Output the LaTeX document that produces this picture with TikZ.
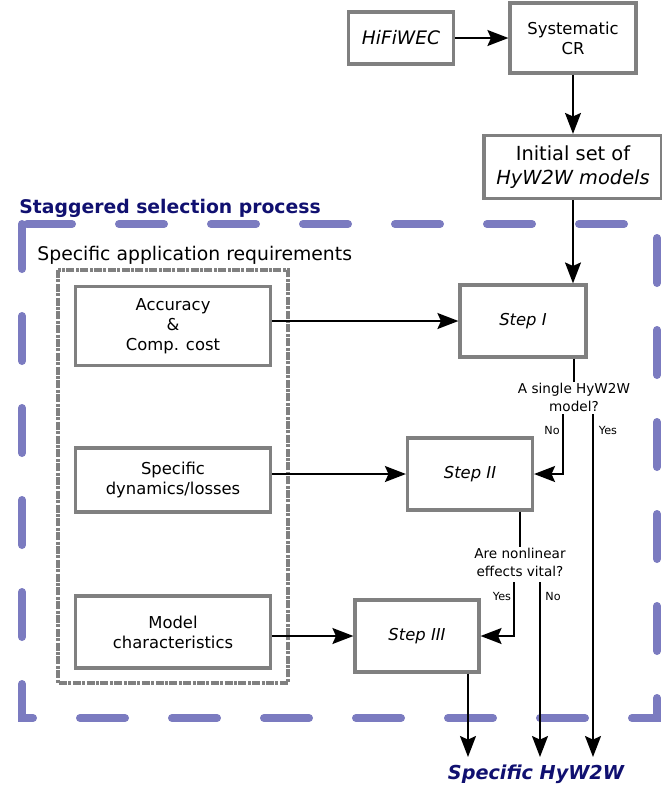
\documentclass[tikz,border=0pt]{standalone}
\usepackage{fontspec}
\setmainfont{DejaVu Sans}
\usepackage{xcolor}
\usepackage{tikz}
\usetikzlibrary{arrows.meta}
\definecolor{framecol}{RGB}{123,123,192}
\definecolor{navy}{RGB}{16,16,112}

\begin{document}
\begin{tikzpicture}[x=0.5pt,y=-0.5pt,
box/.style={draw=black!50,line width=1.6pt,fill=white,align=center,inner sep=0pt,font=\fontsize{8.2}{10}\selectfont},
question/.style={align=center,inner sep=0pt,font=\fontsize{6.8}{9}\selectfont},
answer/.style={inner sep=0pt,font=\fontsize{5.6}{6}\selectfont},
myedge/.style={-{Stealth[length=10.5pt,width=8pt,inset=1.8pt]},line width=0.85pt},
plainedge/.style={line width=0.85pt}]
\useasboundingbox (0,0) rectangle (661,789);
% frame and requirement group
\draw[framecol,line width=4pt,line cap=round,dash pattern=on 22.5pt off 23.5pt] (22,224) rectangle (657,718);
\draw[black!50,line width=1.8pt,dash pattern=on 4pt off 0.7pt on 1.5pt off 0.7pt] (58,270) rectangle (288,683);
\node[anchor=west,inner sep=0pt,text=navy,font=\fontsize{9.4}{11}\selectfont\bfseries] (title) at (19,208) {Staggered selection process};
\node[anchor=west,inner sep=0pt,font=\fontsize{9.4}{11}\selectfont] (reqlabel) at (37,255) {Specific application requirements};
% top chain
\node[box,minimum width=52.5pt,minimum height=26pt,font=\fontsize{9.3}{11}\selectfont] (hifi) at (401,38) {\textit{HiFiWEC}};
\node[box,minimum width=63pt,minimum height=35pt] (syscr) at (573,38) {Systematic\\CR};
\node[box,minimum width=89pt,minimum height=31.5pt,font=\fontsize{9.7}{11.7}\selectfont] (init) at (573,167) {Initial set of\\\textit{HyW2W models}};
% requirements
\node[box,minimum width=97.5pt,minimum height=39.5pt] (acc) at (173,326) {Accuracy\\\&\\Comp. cost};
\node[box,minimum width=97.5pt,minimum height=32pt] (dyn) at (173,480) {Specific\\dynamics/losses};
\node[box,minimum width=97.5pt,minimum height=36pt] (modc) at (173,632) {Model\\characteristics};
% steps
\node[box,minimum width=63pt,minimum height=36pt] (s1) at (523,321) {\textit{Step I}};
\node[box,minimum width=62.5pt,minimum height=36pt] (s2) at (470,474) {\textit{Step II}};
\node[box,minimum width=62pt,minimum height=36pt] (s3) at (417,636) {\textit{Step III}};
% decisions
\node[question] (q1) at (574,397) {A single HyW2W\\model?};
\node[question] (q2) at (520,562) {Are nonlinear\\effects vital?};
\coordinate (no1) at (563,414);
\coordinate (yes1) at (593,414);
\coordinate (yes2) at (514,582);
\coordinate (no2) at (540,582);
\coordinate (out3) at (468,0);
\coordinate (fin) at (536,757);
\node[answer] (lno1) at (552,430) {No};
\node[answer] (lyes1) at (608,430) {Yes};
\node[answer] (lyes2) at (502,596) {Yes};
\node[answer] (lno2) at (553,596) {No};
\node[text=navy,inner sep=0pt,font=\fontsize{9.6}{11}\selectfont\bfseries\itshape] (final) at (536,774) {Specific HyW2W};
% connectors
\draw[myedge] (hifi) -- (syscr);
\draw[myedge] (syscr.south) -- (syscr.south |- init.north);
\draw[myedge] (init.south) -- (init.south |- s1.north);
\draw[myedge] (acc.east |- s1) -- (s1);
\draw[myedge] (dyn.east |- s2) -- (s2);
\draw[myedge] (modc.east |- s3) -- (s3);
\draw[plainedge] (s1.south -| q1.north) -- (q1.north);
\draw[myedge] (no1) |- (s2);
\draw[myedge] (yes1) -- (yes1 |- fin);
\draw[plainedge] (s2.south -| q2.north) -- (q2.north);
\draw[myedge] (yes2) |- (s3);
\draw[myedge] (no2) -- (no2 |- fin);
\draw[myedge] (s3.south -| out3) -- (out3 |- fin);
\end{tikzpicture}
\end{document}
